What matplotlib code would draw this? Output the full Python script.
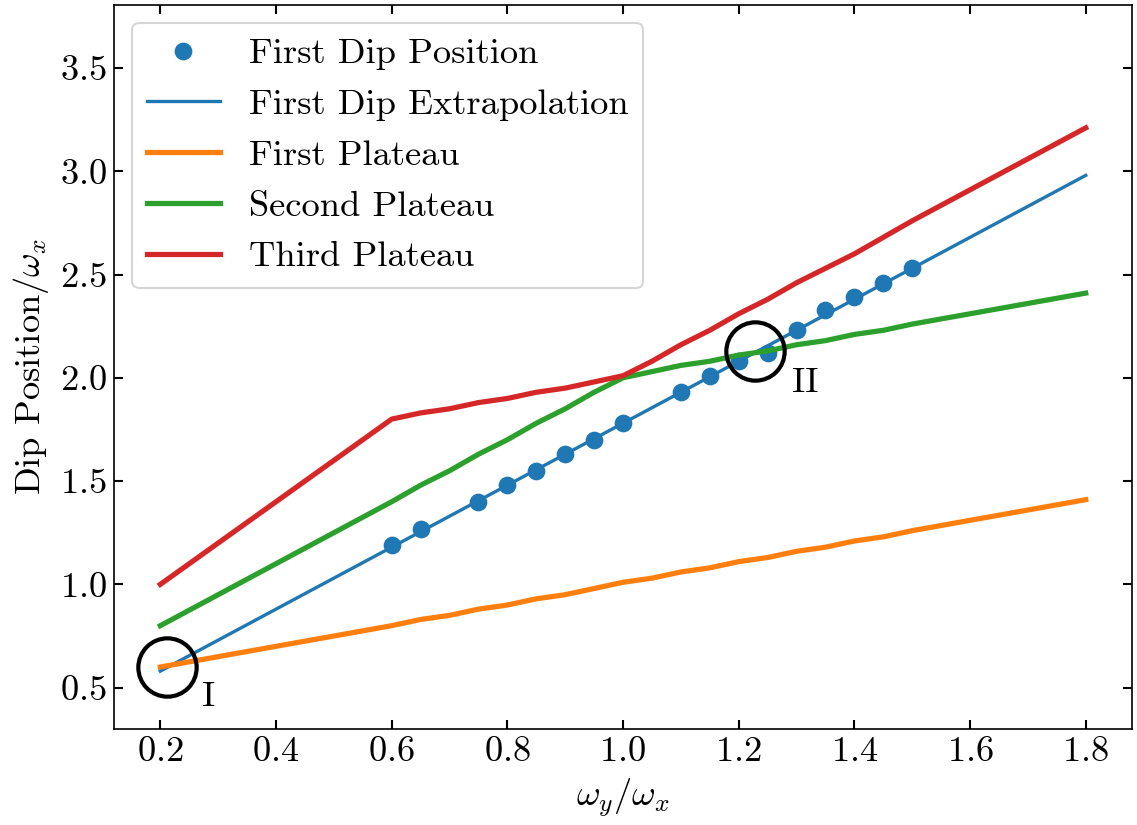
import numpy as np
import matplotlib
matplotlib.use("Agg")
import matplotlib.pyplot as plt

# measured first-dip positions
dip_x = [0.6, 0.65, 0.75, 0.8, 0.85, 0.9, 0.95, 1.0, 1.1, 1.15, 1.2, 1.25,
         1.3, 1.35, 1.4, 1.45, 1.5]
dip_y = [1.19, 1.27, 1.40, 1.48, 1.55, 1.63, 1.70, 1.78, 1.93, 2.01, 2.08, 2.12,
         2.23, 2.33, 2.39, 2.46, 2.53]

# straight-line extrapolation of the first dip
extrap_x = [0.2, 1.8]
extrap_y = [0.58, 2.98]

# plateau curves
plateau_x = [0.2, 0.6, 0.65, 0.7, 0.75, 0.8, 0.85, 0.9, 0.95, 1.0, 1.05, 1.1,
             1.15, 1.2, 1.25, 1.3, 1.35, 1.4, 1.45, 1.5, 1.8]
first_plateau = [0.60, 0.80, 0.83, 0.85, 0.88, 0.90, 0.93, 0.95, 0.98, 1.01, 1.03,
                 1.06, 1.08, 1.11, 1.13, 1.16, 1.18, 1.21, 1.23, 1.26, 1.41]
second_plateau = [0.80, 1.40, 1.48, 1.55, 1.63, 1.70, 1.78, 1.85, 1.93, 2.00, 2.03,
                  2.06, 2.08, 2.11, 2.13, 2.16, 2.18, 2.21, 2.23, 2.26, 2.41]
third_plateau = [1.00, 1.80, 1.83, 1.85, 1.88, 1.90, 1.93, 1.95, 1.98, 2.01, 2.08,
                 2.16, 2.23, 2.31, 2.38, 2.46, 2.53, 2.60, 2.68, 2.76, 3.21]

# highlighted crossing points
mark_x = [0.211, 1.229]
mark_y = [0.60, 2.13]
mark_labels = ["I", "II"]
mark_label_x = [0.272, 1.292]
mark_label_y = [0.41, 1.93]


def main() -> None:
    plt.rcParams.update({
        "font.family": "serif",
        "font.serif": ["cmr10"],
        "mathtext.fontset": "cm",
        "axes.formatter.use_mathtext": True,
        "font.size": 17.5,
    })

    fig, ax = plt.subplots(figsize=(7.58, 5.5), dpi=150)
    fig.subplots_adjust(left=0.1003, right=0.9956, bottom=0.1164, top=0.994)

    ax.plot(dip_x, dip_y, "o", color="C0", ms=7.5, label="First Dip Position")
    ax.plot(extrap_x, extrap_y, color="C0", lw=1.6, label="First Dip Extrapolation")
    ax.plot(plateau_x, first_plateau, color="C1", lw=2.5, label="First Plateau")
    ax.plot(plateau_x, second_plateau, color="C2", lw=2.5, label="Second Plateau")
    ax.plot(plateau_x, third_plateau, color="C3", lw=2.5, label="Third Plateau")

    ax.plot(mark_x, mark_y, "o", mfc="none", mec="black", ms=28, mew=2)
    for lx, ly, txt in zip(mark_label_x, mark_label_y, mark_labels):
        ax.text(lx, ly, txt, fontsize=17.5)

    ax.set_xlim(0.12, 1.88)
    ax.set_ylim(0.30, 3.805)
    ax.set_xticks(np.arange(0.2, 1.81, 0.2))
    ax.set_yticks(np.arange(0.5, 3.51, 0.5))
    ax.tick_params(direction="in", top=True, right=True, length=4.5, width=1)

    ax.set_xlabel(r"$\omega_y/\omega_x$")
    ax.set_ylabel(r"Dip Position/$\omega_x$")

    ax.legend(loc="upper left", numpoints=1, handlelength=2.0)

    fig.savefig("out.png", dpi=150)


if __name__ == "__main__":
    main()
